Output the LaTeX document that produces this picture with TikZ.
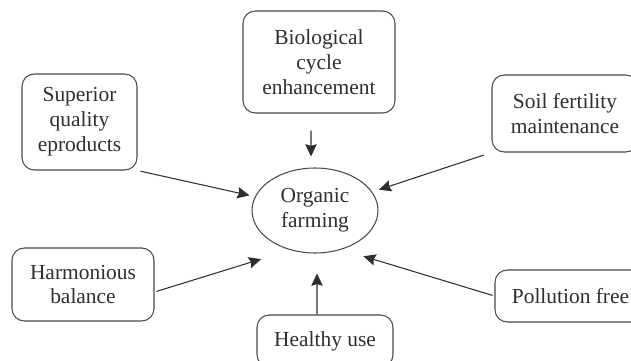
\documentclass[tikz,border=0pt]{standalone}
\usepackage{fontspec}
\setmainfont{Liberation Serif}
\usepackage{xcolor}
\usepackage{tikz}
\usetikzlibrary{shapes.geometric,arrows.meta}
\definecolor{boxgray}{HTML}{4A4A4A}
\definecolor{txtgray}{HTML}{2E2E2E}
\tikzset{
  box/.style={draw=boxgray, line width=0.6pt, rounded corners=7pt, align=center,
    text=txtgray, inner sep=0pt, font=\fontsize{12.2}{14.2}\selectfont},
  hub/.style={ellipse, draw=boxgray, line width=0.6pt, align=center, text=txtgray,
    inner sep=0pt, minimum width=2.52cm, minimum height=1.7cm,
    font=\fontsize{12.2}{14.2}\selectfont},
  feed/.style={draw=txtgray, line width=0.6pt, -{Stealth[length=7pt,width=6.5pt,inset=1pt]}}
}

\begin{document}
\begin{tikzpicture}[x=0.02cm, y=-0.02cm]
        \useasboundingbox (0,0) rectangle (631,361);
        \clip (0,0) rectangle (631,361);
          % centre
          \node[hub] (org) at (315,210.5) {Organic\\farming};
          % boxes
          \node[box, minimum width=3.04cm, minimum height=2.04cm] (bio) at (319,62) {Biological\\cycle\\enhancement};
          \node[box, minimum width=2.3cm, minimum height=1.92cm] (sup) at (79.5,122) {Superior\\quality\\eproducts};
          \node[box, minimum width=2.92cm, minimum height=1.54cm] (soil) at (565,113.5) {Soil fertility\\maintenance};
          \node[box, minimum width=2.84cm, minimum height=1.46cm] (harm) at (83,284.5) {Harmonious\\balance};
          \node[box, minimum width=2.72cm, minimum height=1.04cm] (health) at (325,341) {Healthy use};
          \node[box, minimum width=3.02cm, minimum height=1.04cm] (poll) at (570.5,296) {Pollution free};

          % arrows
          \draw[feed, shorten <=0.34cm, shorten >=0.22cm] ([xshift=-0.16cm]bio.south) -- ([xshift=-0.08cm]org.north);
          \draw[feed, shorten <=0.06cm, shorten >=0.11cm] (sup.south east) -- (org.167);
          \draw[feed, shorten <=0.16cm, shorten >=0.14cm] (soil.south west) -- (org.18);
          \draw[feed, shorten <=0.04cm, shorten >=0.61cm] (harm.-6) -- (org.238);
          \draw[feed, shorten >=0.4cm] ([xshift=-0.16cm]health.north) -- ([xshift=0.04cm]org.south);
          \draw[feed, shorten <=0.04cm, shorten >=0.46cm] (poll.west) -- (org.304);
     \end{tikzpicture}
\end{document}
